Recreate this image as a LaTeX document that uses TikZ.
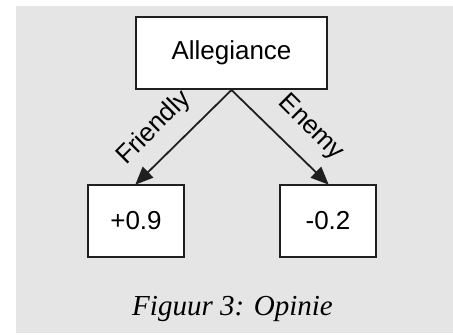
\documentclass[tikz,border=0pt]{standalone}
\usepackage{fontspec}
\setmainfont{Liberation Serif}
\newfontfamily\boxfont{Liberation Sans}
\usetikzlibrary{arrows.meta}
\begin{document}
\begin{tikzpicture}[x=1pt,y=-1pt,
  panel/.style={fill=black!10,draw=none},
  valuebox/.style={draw=black!88,line width=2pt,fill=white,minimum height=72pt,
    inner sep=0pt,font=\boxfont\fontsize{26}{30}\selectfont},
  link/.style={draw=black!88,line width=1.8pt,
    -{Triangle[length=18pt,width=15pt]},shorten >=-1pt},
  edgelabel/.style={font=\boxfont\fontsize{26}{30}\selectfont,inner sep=0pt,anchor=center}]
  \useasboundingbox (0,0) rectangle (453,335);
  \path[panel] (16,6) rectangle (453,333);
  % decision node and its two outcomes
  \node[valuebox,minimum width=191pt] (alleg) at (231.5,53) {Allegiance};
  \node[valuebox,minimum width=96pt] (pos) at (136,221) {+0.9};
  \node[valuebox,minimum width=96pt] (neg) at (328,221) {-0.2};
  \draw[link] (alleg.south) -- (pos.north);
  \draw[link] (alleg.south) -- (neg.north);
  % branch labels, set along each arrow
  \node[edgelabel,rotate=45] (friendly) at (154,128) {Friendly};
  \node[edgelabel,rotate=-45] (enemy) at (311,128) {Enemy};
  \node[font=\fontsize{29}{34}\selectfont\itshape,anchor=base] (cap) at (232.5,315) {Figuur 3: Opinie};
\end{tikzpicture}
\end{document}
